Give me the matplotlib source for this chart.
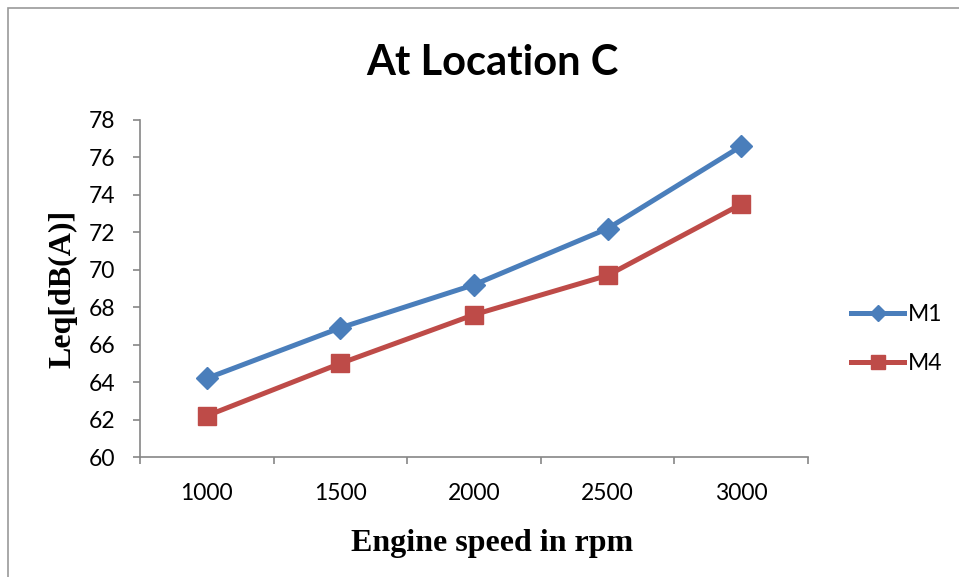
import numpy as np
import matplotlib.pyplot as plt
from matplotlib.patches import Rectangle

speeds = ["1000", "1500", "2000", "2500", "3000"]
m1 = [64.2, 66.9, 69.2, 72.2, 76.6]
m4 = [62.2, 65.0, 67.6, 69.7, 73.5]

blue = "#4A7EBB"
red = "#BE4B48"
grey = "#868686"

fig = plt.figure(figsize=(9.59, 5.77), dpi=100)
ax = fig.add_axes([140 / 959, 1 - 457 / 577, 668 / 959, 337 / 577])

x = np.arange(len(speeds))
ax.plot(x, m1, color=blue, lw=3.6, marker="D", ms=11, label="M1")
ax.plot(x, m4, color=red, lw=3.6, marker="s", ms=13, label="M4")

ax.set_xlim(-0.5, len(speeds) - 0.5)
ax.set_ylim(60, 78)
ax.set_yticks(np.arange(60, 79, 2))
ax.tick_params(axis="y", direction="out", length=5, width=1.2, color=grey,
               labelsize=16.5, pad=13)
for lbl in ax.get_yticklabels():
    lbl.set_family("Lato")

# category axis: tick marks between groups, labels centred on groups
ax.set_xticks(np.arange(-0.5, len(speeds)), labels=[])
ax.set_xticks(x, labels=speeds, minor=True)
ax.tick_params(axis="x", which="major", direction="out", length=5, width=1.2, color=grey)
ax.tick_params(axis="x", which="minor", length=0, labelsize=16.5, pad=19)
for lbl in ax.get_xticklabels(minor=True):
    lbl.set_family("Lato")

for side in ["top", "right"]:
    ax.spines[side].set_visible(False)
for side in ["left", "bottom"]:
    ax.spines[side].set_color(grey)
    ax.spines[side].set_linewidth(1.2)

ax.set_ylabel("Leq[dB(A)]", family="Liberation Serif", fontweight="bold", fontsize=23)
ax.yaxis.set_label_coords((77 - 140) / 668, 0.5)
ax.set_xlabel("Engine speed in rpm", family="Liberation Serif", fontweight="bold", fontsize=23)
ax.xaxis.set_label_coords((492 - 140) / 668, -(529 - 457) / 337)

fig.text(492 / 959, 1 - 63 / 577, "At Location C", family="Lato", fontweight="bold",
         fontsize=30, ha="center", va="center")

fig.legend(loc="center left", bbox_to_anchor=(830 / 959, 1 - 339 / 577), frameon=False,
           prop={"family": "Lato", "size": 16.5}, handlelength=2.35, handletextpad=0.15,
           labelspacing=1.2, markerscale=0.75)

# outer chart frame
fig.patches.append(Rectangle((8 / 959, -0.1), 1.2, 1.1 - 8 / 577, transform=fig.transFigure,
                             fill=False, edgecolor="#999999", lw=1.2))

fig.savefig("out.png", dpi=100)
